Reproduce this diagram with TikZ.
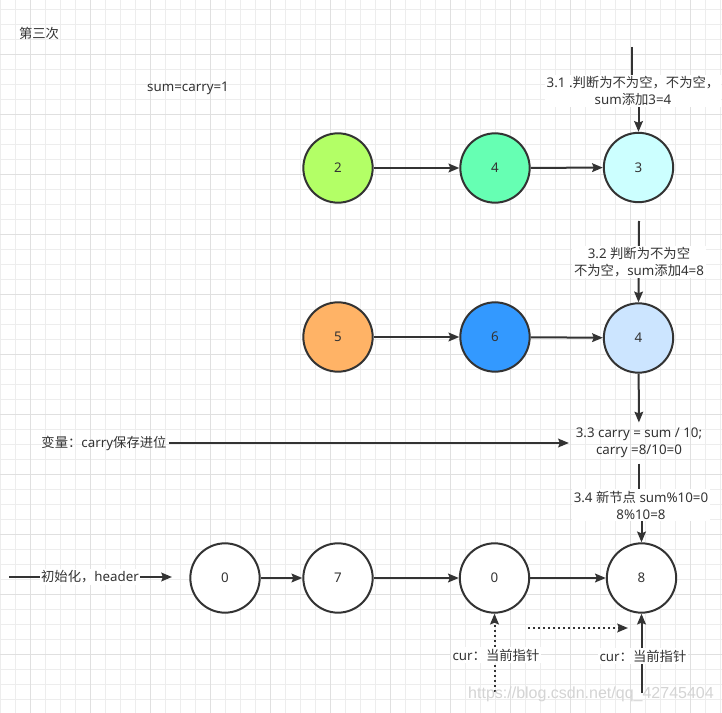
\documentclass[tikz,border=0pt]{standalone}
\usepackage{fontspec}
\setmainfont{Noto Sans}
\newfontfamily\cjkf{Noto Sans CJK SC}
\newfontfamily\wmfont{Liberation Sans}
\newcommand\zh[1]{{\cjkf #1}}
\usetikzlibrary{arrows.meta}
\pgfdeclarelayer{gridlayer}
\pgfdeclarelayer{edgelayer}
\pgfsetlayers{gridlayer,edgelayer,main}
\definecolor{ink}{HTML}{333333}
\definecolor{gminor}{HTML}{EDEDED}
\definecolor{gmajor}{HTML}{E0E0E0}
\definecolor{cA}{HTML}{B3FF66}
\definecolor{cB}{HTML}{66FFB3}
\definecolor{cC}{HTML}{CCFFFF}
\definecolor{cD}{HTML}{FFB366}
\definecolor{cE}{HTML}{3399FF}
\definecolor{cF}{HTML}{CCE5FF}
\begin{document}
\begin{tikzpicture}[x=0.75pt,y=-0.75pt,
  font=\fontsize{10}{12.75}\selectfont, text=ink,
  circ/.style={circle,draw=ink,line width=1.5pt,minimum size=52pt,inner sep=0pt,fill=white},
  txt/.style={inner sep=1.5pt},
  lbl/.style={fill=white,align=center,inner xsep=1.5pt,inner ysep=1pt},
  arr/.style={draw=ink,line width=1.5pt,-{Stealth[length=8pt,width=6.5pt,inset=1.2pt]}},
  dots/.style={dash pattern=on 1.5pt off 2.25pt},
  gmin/.style={draw=gminor,line width=0.75pt},
  gmaj/.style={draw=gmajor,line width=0.75pt}]
\useasboundingbox (0,0) rectangle (722,713);
\begin{pgfonlayer}{gridlayer}
\fill[white] (0,0) rectangle (722,713);
\foreach \x in {0,15,...,720} \draw[gmin] (\x,0) -- (\x,713);
\foreach \y in {9.5,24.5,...,713} \draw[gmin] (0,\y) -- (722,\y);
\foreach \x in {30,90,...,720} \draw[gmaj] (\x,0) -- (\x,713);
\foreach \y in {54.5,114.5,...,713} \draw[gmaj] (0,\y) -- (722,\y);
\end{pgfonlayer}

% texts
\node[txt] (title) at (39,33) {\zh{第三次}};
\node[txt] (sumc) at (188,88) {sum=carry=1};

% row 1
\node[circ,fill=cA] (a2) at (338,168) {2};
\node[circ,fill=cB] (a4) at (495,168) {4};
\node[circ,fill=cC] (a3) at (638.5,167.5) {3};
% row 2
\node[circ,fill=cD] (b5) at (338,337) {5};
\node[circ,fill=cE] (b6) at (495,337) {6};
\node[circ,fill=cF] (b4) at (638.5,338) {4};
% row 3
\node[circ] (c0) at (225,578) {0};
\node[circ] (c7) at (338,578) {7};
\node[circ] (c0b) at (494.5,578) {0};
\node[circ] (c8) at (641.5,578) {8};

% labels
\coordinate (t1) at (632,47);
\node[lbl] (L31) at (633,91) {3.1 .\zh{判断为不为空，不为空，}\\sum\zh{添加}3=4};
\coordinate (t2) at (639,221);
\node[lbl] (L32) at (639,262) {3.2 \zh{判断为不为空}\\\zh{不为空，}sum\zh{添加}4=8};
\node[align=center,inner xsep=5pt,inner ysep=4pt] (L33) at (639,443) {3.3 carry = sum / 10;\\carry =8/10=0};
\node[lbl] (L34) at (641,505) {3.4 \zh{新节点} sum\%10=0\\8\%10=8};
\node[txt] (var) at (104,443) {\zh{变量：}carry\zh{保存进位}};
\coordinate (i0) at (9,577);
\coordinate (i1) at (172,577);
\node[lbl,inner xsep=1pt] (init) at (90,577) {\zh{初始化，}header};
\node[lbl] (cur1) at (496,655) {cur\zh{：当前指针}};
\node[lbl] (cur2) at (643,656) {cur\zh{：当前指针}};
\coordinate (p1) at (494.5,692);
\coordinate (p2) at (641.5,693);
\coordinate (d1) at (528,628);
\coordinate (d2) at (628,628);

\begin{pgfonlayer}{edgelayer}
\draw[arr] (a2) -- (a4);
\draw[arr] (a4) -- (a3);
\draw[arr] (b5) -- (b6);
\draw[arr] (b6) -- (b4);
\draw[arr] (c0) -- (c7);
\draw[arr] (c7) -- (c0b);
\draw[arr] (c0b) -- (c8);
\draw[arr] (t1) |- (L31.center) -| (a3.north);
\draw[arr] (t2) -- (b4.north);
\draw[arr] (b4) -- (L33);
\draw[arr] (L33.south) |- (L34.center) -| (c8.north);
\draw[arr] (var.east) -- (L33.west);
\draw[arr] (i0) -- (i1);
\draw[arr,dots] (p1) -- (c0b.south);
\draw[arr] (p2) -- (c8.south);
\draw[arr,dots] (d1) -- (d2);
\end{pgfonlayer}

\node[text=black!17,font=\fontsize{12}{14}\selectfont\wmfont,inner sep=0pt] (wm) at (591,694) {https://blog.csdn.net/qq\_42745404};
\end{tikzpicture}
\end{document}
